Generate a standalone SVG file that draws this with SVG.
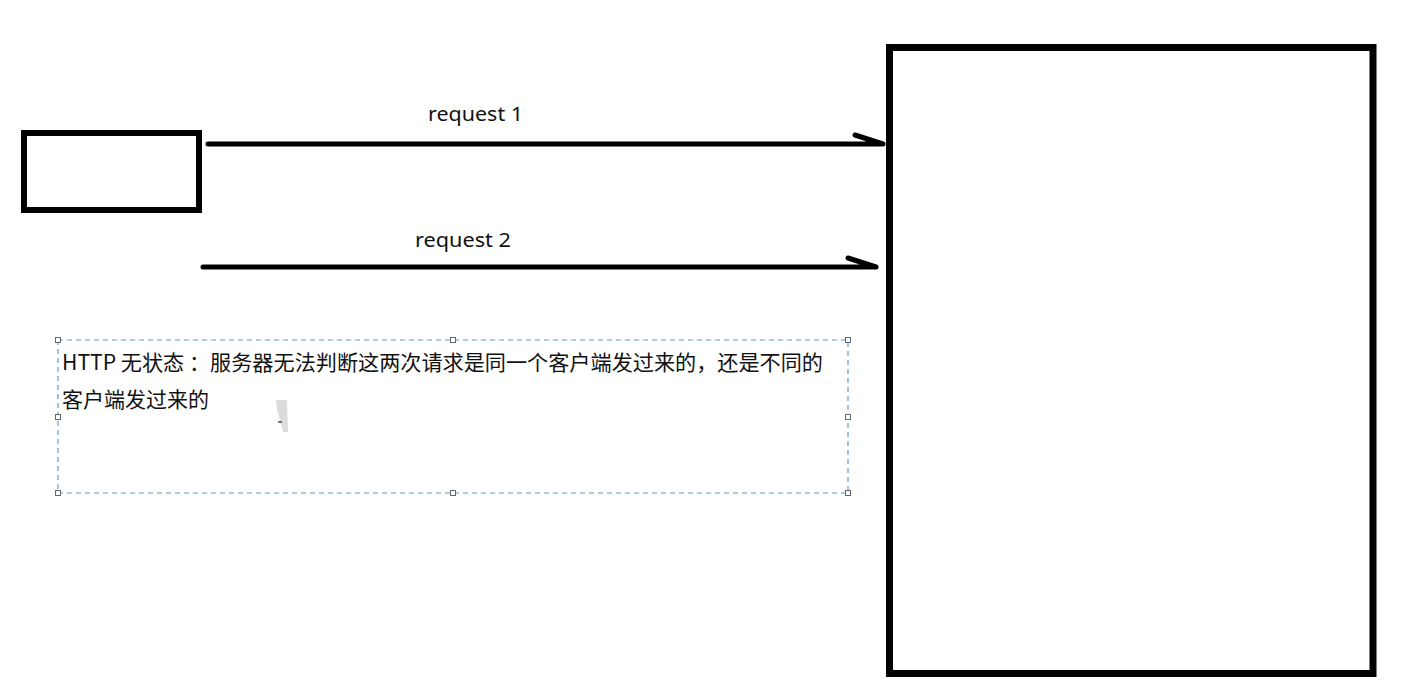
<svg xmlns="http://www.w3.org/2000/svg" width="1422" height="699" viewBox="0 0 1422 699">
<style>
.box{fill:none;stroke:#000;}
.conn{stroke:#000;stroke-width:5;stroke-linecap:round;fill:none;}
.lbl{font-family:"Noto Sans","Noto Sans CJK SC",sans-serif;font-size:19px;fill:#111;}
.note{font-family:"Noto Sans CJK SC","Noto Sans",sans-serif;font-size:21px;fill:#111;}
.handle{fill:#fff;stroke:#666;stroke-width:1;}
</style>
<rect width="1422" height="699" fill="#fff"/>
<g id="client">
<rect class="box" x="24" y="133" width="175" height="77" stroke-width="6"/>
</g>
<g id="server">
<rect class="box" x="889.5" y="47.5" width="483.5" height="626" stroke-width="7"/>
</g>
<g id="connectors">
<path class="conn" d="M208,144 L883,144 M855,135 L883,144"/>
<path class="conn" d="M203,267 L876,267 M848,258 L876,267"/>
<text class="lbl" x="428" y="121" textLength="95" lengthAdjust="spacingAndGlyphs">request 1</text>
<text class="lbl" x="415" y="247" textLength="96" lengthAdjust="spacingAndGlyphs">request 2</text>
</g>
<g id="note">
<rect x="58" y="340" width="790" height="153" fill="none" stroke="#5b9bd5" stroke-width="1.2" stroke-dasharray="5,4"/>
<rect class="handle" x="55.5" y="337.5" width="5" height="5"/>
<rect class="handle" x="450.5" y="337.5" width="5" height="5"/>
<rect class="handle" x="845.5" y="337.5" width="5" height="5"/>
<rect class="handle" x="55.5" y="414.5" width="5" height="5"/>
<rect class="handle" x="845.5" y="414.5" width="5" height="5"/>
<rect class="handle" x="55.5" y="490.5" width="5" height="5"/>
<rect class="handle" x="450.5" y="490.5" width="5" height="5"/>
<rect class="handle" x="845.5" y="490.5" width="5" height="5"/>
<text class="note" x="62" y="370" textLength="761" lengthAdjust="spacingAndGlyphs">HTTP 无状态 ：服务器无法判断这两次请求是同一个客户端发过来的，还是不同的</text>
<text class="note" x="62" y="407" textLength="147" lengthAdjust="spacingAndGlyphs">客户端发过来的</text>
<polygon points="276,400 287,400 288,432 283,432 280,420 277,410" fill="#dcdcdc"/>
<line x1="278" y1="422" x2="282" y2="422" stroke="#222" stroke-width="1.2"/>
</g>
</svg>
